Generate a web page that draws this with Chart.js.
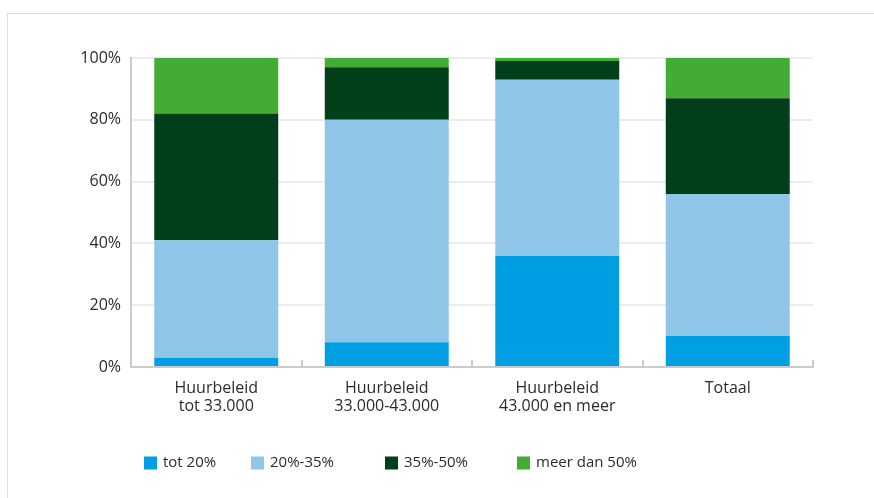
<!DOCTYPE html>
<html>
<head>
<meta charset="utf-8">
<script src="https://cdn.jsdelivr.net/npm/chart.js@4"></script>
<style>
  html, body { margin: 0; padding: 0; background: #fff; overflow: hidden; }
  #frame { position: absolute; left: 7px; top: 13px; width: 900px; height: 520px;
           border-left: 1px solid #dcdcdc; border-top: 1px solid #dcdcdc; }
  #wrap { position: absolute; left: 0; top: 0; width: 874px; height: 498px; }
</style>
</head>
<body>
<div id="frame"></div>
<div id="wrap"><canvas id="chart" width="874" height="498"></canvas></div>
<script>
// Categories and values (percent of households per rent burden class)
const categories = [['Huurbeleid', 'tot 33.000'], ['Huurbeleid', '33.000-43.000'], ['Huurbeleid', '43.000 en meer'], 'Totaal'];
const seriesNames = ['tot 20%', '20%-35%', '35%-50%', 'meer dan 50%'];
const tot20 = [3, 8, 36, 10];
const from20to35 = [38, 72, 57, 46];
const from35to50 = [41, 17, 6, 31];
const over50 = [18, 3, 1, 13];
const yTicks = [0, 20, 40, 60, 80, 100];

const colors = ['#009fe3', '#8fc6e8', '#003f1a', '#43ac34'];
const FONT = '"Open Sans", sans-serif';
const TEXT = '#2b2b2b';

// small upward ticks between categories (and at the end) of the x axis
const xTickMarks = {
    id: 'xTickMarks',
    afterDatasetsDraw(chart) {
        const ctx = chart.ctx;
        const x = chart.scales.x;
        const bottom = chart.chartArea.bottom;
        ctx.save();
        ctx.strokeStyle = '#cccccc';
        ctx.lineWidth = 2;
        for (let i = 0; i < categories.length; i++) {
            const px = i < categories.length - 1
                ? Math.round((x.getPixelForValue(i) + x.getPixelForValue(i + 1)) / 2)
                : x.right;
            ctx.beginPath();
            ctx.moveTo(px, bottom - 7);
            ctx.lineTo(px, bottom);
            ctx.stroke();
        }
        ctx.restore();
    }
};

// legend drawn below the chart
const bottomLegend = {
    id: 'bottomLegend',
    afterDraw(chart) {
        const ctx = chart.ctx;
        const starts = [144, 251, 385, 517];
        const y = 463;
        ctx.save();
        ctx.font = '15px ' + FONT;
        ctx.textBaseline = 'middle';
        seriesNames.forEach((name, i) => {
            ctx.fillStyle = colors[i];
            ctx.fillRect(starts[i], y - 6.5, 13, 13);
            ctx.fillStyle = TEXT;
            ctx.fillText(name, starts[i] + 19, y);
        });
        ctx.restore();
    }
};

const ctx = document.getElementById('chart').getContext('2d');
new Chart(ctx, {
    type: 'bar',
    data: {
        labels: categories,
        datasets: [
            { label: seriesNames[0], data: tot20, backgroundColor: colors[0] },
            { label: seriesNames[1], data: from20to35, backgroundColor: colors[1] },
            { label: seriesNames[2], data: from35to50, backgroundColor: colors[2] },
            { label: seriesNames[3], data: over50, backgroundColor: colors[3] }
        ]
    },
    options: {
        responsive: false,
        animation: false,
        datasets: { bar: { categoryPercentage: 1, barPercentage: 0.727 } },
        layout: { padding: { left: 0, top: 58, right: 61, bottom: 0 } },
        plugins: {
            legend: { display: false },
            tooltip: { enabled: false }
        },
        scales: {
            x: {
                stacked: true,
                afterFit(scale) { scale.height = 131; },
                grid: { display: false },
                border: { color: '#cccccc', width: 2 },
                ticks: { color: TEXT, font: { family: FONT, size: 16, lineHeight: 1.15 }, padding: 4, maxRotation: 0 }
            },
            y: {
                stacked: true,
                min: 0,
                max: 100,
                afterFit(scale) { scale.width = 131; },
                afterBuildTicks(scale) { scale.ticks = yTicks.map(v => ({ value: v })); },
                grid: { color: '#ececec', lineWidth: 2, drawTicks: false },
                border: { color: '#cccccc', width: 2 },
                ticks: {
                    color: TEXT,
                    font: { family: FONT, size: 16 },
                    padding: 10,
                    callback: v => v + '%'
                }
            }
        }
    },
    plugins: [xTickMarks, bottomLegend]
});
</script>
</body>
</html>
